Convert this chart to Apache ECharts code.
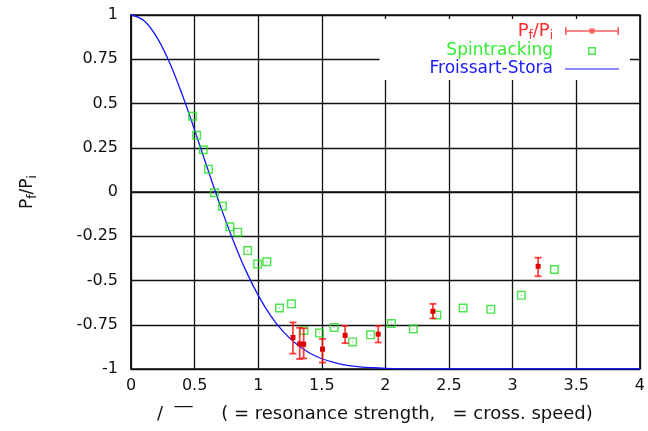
<!DOCTYPE html>
<html>
<head>
<meta charset="utf-8">
<script src="https://cdn.jsdelivr.net/npm/echarts@6/dist/echarts.min.js"></script>
<style>
  html, body { margin: 0; padding: 0; background: #fff; }
  #chart { width: 648px; height: 431px; }
</style>
</head>
<body>
<div id="chart"></div>
<script>
// Froissart-Stora curve
const fsX = [0, 0.1, 0.2, 0.3, 0.4, 0.5, 0.6, 0.7, 0.8, 0.9, 1.0, 1.1, 1.2, 1.3, 1.4, 1.5, 1.6, 1.7, 1.8, 1.9, 2.0, 2.2, 2.5, 3.0, 4.0];
const fsY = [1, 0.969, 0.878, 0.736, 0.555, 0.35, 0.136, -0.074, -0.268, -0.44, -0.584, -0.701, -0.792, -0.859, -0.908, -0.942, -0.964, -0.979, -0.988, -0.993, -0.996, -0.999, -1, -1, -1];

// Spintracking points
const spinX = [0.484, 0.516, 0.568, 0.609, 0.656, 0.719, 0.777, 0.839, 0.917, 0.995, 1.068, 1.167, 1.261, 1.359, 1.482, 1.597, 1.742, 1.883, 2.047, 2.219, 2.404, 2.611, 2.828, 3.068, 3.328];
const spinY = [0.428, 0.32, 0.239, 0.129, -0.004, -0.08, -0.197, -0.227, -0.331, -0.407, -0.394, -0.655, -0.632, -0.782, -0.797, -0.765, -0.847, -0.807, -0.743, -0.774, -0.695, -0.655, -0.663, -0.584, -0.438];

// measured Pf/Pi with error bars
const measX = [1.273, 1.326, 1.357, 1.505, 1.683, 1.943, 2.373, 3.2];
const measY = [-0.822, -0.858, -0.86, -0.888, -0.81, -0.803, -0.674, -0.42];
const measLow = [-0.913, -0.943, -0.94, -0.964, -0.854, -0.85, -0.714, -0.476];
const measHigh = [-0.737, -0.767, -0.77, -0.83, -0.756, -0.756, -0.632, -0.371];

const FONT = 'DejaVu Sans';

const chart = echarts.init(document.getElementById('chart'));

const fsData = fsX.map((x, i) => [x, fsY[i]]);
const spinData = spinX.map((x, i) => [x, spinY[i]]);
const measData = measX.map((x, i) => [x, measY[i], measLow[i], measHigh[i]]);

// error bar drawn for each measured point
function renderErr(params, api) {
  const c = api.coord([api.value(0), api.value(1)]);
  const lo = api.coord([api.value(0), api.value(2)]);
  const hi = api.coord([api.value(0), api.value(3)]);
  const stroke = { stroke: 'rgba(255,20,20,0.8)', lineWidth: 1.8 };
  const cap = 3.5;
  return {
    type: 'group',
    children: [
      { type: 'line', shape: { x1: lo[0], y1: lo[1], x2: hi[0], y2: hi[1] }, style: stroke },
      { type: 'line', shape: { x1: lo[0] - cap, y1: lo[1], x2: lo[0] + cap, y2: lo[1] }, style: stroke },
      { type: 'line', shape: { x1: hi[0] - cap, y1: hi[1], x2: hi[0] + cap, y2: hi[1] }, style: stroke },
      { type: 'rect', shape: { x: c[0] - 2.5, y: c[1] - 2.5, width: 5, height: 5 }, style: { fill: '#e00000' } }
    ]
  };
}

const errIcon = 'path://M0 0M61 10M7 4.2h54v1.6H7zM7 1h1.6v8H7zM59.4 1h1.6v8h-1.6zM31.5 2.5h5v5h-5z';
const boxIcon = 'path://M0 0M61 10M30 1h8v8h-8zM31.5 2.5v5h5v-5zM33.4 4.4h1.2v1.2h-1.2z';
const lineIcon = 'path://M0 0M61 10M7 4.4h54v1.2H7z';
const boxSymbol = 'path://M0 0h10v10H0zM1.6 1.6v6.8h6.8V1.6zM4.4 4.4h1.2v1.2H4.4z';

chart.setOption({
  animation: false,
  textStyle: { fontFamily: FONT },
  grid: {
    left: 131, right: 8, top: 15, bottom: 62,
    show: true, borderColor: '#111', borderWidth: 1.5, backgroundColor: 'transparent'
  },
  legend: {
    orient: 'vertical',
    right: 18,
    top: 19,
    align: 'right',
    itemWidth: 61,
    itemHeight: 10,
    itemGap: 0,
    backgroundColor: '#fff',
    padding: [3, 11, 2, 50],
    selectedMode: false,
    textStyle: {
      fontFamily: FONT, fontSize: 17, lineHeight: 18,
      rich: {
        a: { fontFamily: FONT, fontSize: 18, color: '#ff2a2a' },
        s: { fontFamily: FONT, fontSize: 12, color: '#ff2a2a', padding: [10, 0, 0, 0] }
      }
    },
    formatter: function (name) {
      if (name === 'Pf/Pi') return '{a|P}{s|f}{a|/P}{s|i}';
      return name;
    },
    data: [
      { name: 'Pf/Pi', icon: errIcon, itemStyle: { color: 'rgba(255,40,40,0.75)' }, textStyle: { color: '#ff2a2a' } },
      { name: 'Spintracking', icon: boxIcon, itemStyle: { color: '#22dd22' }, textStyle: { color: '#33ee33' } },
      { name: 'Froissart-Stora', icon: lineIcon, itemStyle: { color: '#1515ff' }, textStyle: { color: '#1a1aff' } }
    ]
  },
  xAxis: {
    type: 'value',
    min: 0, max: 4, interval: 0.5,
    name: '/  \u203e\u203e     ( = resonance strength,   = cross. speed)',
    nameLocation: 'middle',
    nameGap: 36,
    nameTextStyle: { fontFamily: FONT, fontSize: 18, color: '#111', padding: [0, 21, 0, 0] },
    axisLine: { show: true, lineStyle: { color: '#111', width: 1.5 } },
    axisTick: { show: false },
    axisLabel: { fontFamily: FONT, fontSize: 16, color: '#111', margin: 9 },
    splitLine: { show: true, lineStyle: { color: '#111', width: 1.3 } }
  },
  yAxis: {
    type: 'value',
    min: -1, max: 1, interval: 0.25,
    name: '{a|P}{s|f}{a|/P}{s|i}',
    nameLocation: 'middle',
    nameRotate: 90,
    nameGap: 92,
    nameTextStyle: {
      rich: {
        a: { fontFamily: FONT, fontSize: 17, color: '#111' },
        s: { fontFamily: FONT, fontSize: 12, color: '#111', padding: [10, 0, 0, 0] }
      }
    },
    axisLine: { show: true, lineStyle: { color: '#111', width: 1.5 } },
    axisTick: { show: false },
    axisLabel: { fontFamily: FONT, fontSize: 16, color: '#111', margin: 13 },
    splitLine: { show: true, lineStyle: { color: '#111', width: 1.3 } }
  },
  series: [
    {
      name: 'Froissart-Stora',
      type: 'line',
      data: fsData,
      smooth: 0.4,
      showSymbol: false,
      lineStyle: { color: '#1515ff', width: 1.3 },
      itemStyle: { color: '#1515ff' },
      z: 3
    },
    {
      name: 'Spintracking',
      type: 'scatter',
      data: spinData,
      symbol: boxSymbol,
      symbolSize: 9,
      itemStyle: { color: '#22dd22' },
      z: 4
    },
    {
      name: 'Pf/Pi',
      type: 'custom',
      data: measData,
      renderItem: renderErr,
      itemStyle: { color: 'rgba(255,40,40,0.75)' },
      encode: { x: 0, y: 1 },
      z: 5
    }
  ]
});
</script>
</body>
</html>
